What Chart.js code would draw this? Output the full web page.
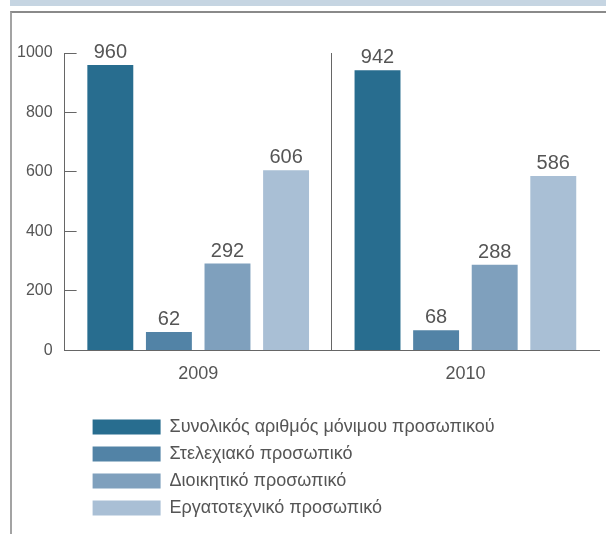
<!DOCTYPE html>
<html><head><meta charset="utf-8">
<script src="https://cdn.jsdelivr.net/npm/chart.js@4"></script>
<style>
html,body{margin:0;padding:0;background:#fff;}
#wrap{position:relative;width:606px;height:534px;overflow:hidden;}
#band{position:absolute;left:10px;top:0;width:596px;height:6px;background:#c6d5e2;}
#frame{position:absolute;left:10px;top:11px;width:596px;height:530px;border-left:2px solid #a3a3a3;border-top:2px solid #8a8a8a;}
canvas{position:absolute;left:0;top:0;}
</style></head><body>
<div id="wrap"><div id="band"></div><div id="frame"></div><canvas id="c" width="606" height="534"></canvas></div>
<script>
const categories = ['2009', '2010'];
const seriesNames = [
  'Συνολικός αριθμός μόνιμου προσωπικού',
  'Στελεχιακό προσωπικό',
  'Διοικητικό προσωπικό',
  'Εργατοτεχνικό προσωπικό'
];
const totalStaff = [960, 942];
const executiveStaff = [62, 68];
const administrativeStaff = [292, 288];
const workerStaff = [606, 586];
const yTickValues = [0, 200, 400, 600, 800, 1000];
const seriesColors = ['#286d8f', '#5283a6', '#7fa0bd', '#a9bfd5'];

const FONT = '"Liberation Sans", Arial, sans-serif';
const TEXT = '#555555';
const AXIS = '#666666';

const seriesValues = [totalStaff, executiveStaff, administrativeStaff, workerStaff];

const valueLabels = {
  id: 'valueLabels',
  afterDatasetsDraw(chart) {
    const ctx = chart.ctx;
    ctx.save();
    ctx.font = '20px ' + FONT;
    ctx.fillStyle = TEXT;
    ctx.textAlign = 'center';
    ctx.textBaseline = 'alphabetic';
    chart.data.datasets.forEach((ds, i) => {
      chart.getDatasetMeta(i).data.forEach((bar, j) => {
        ctx.fillText(String(ds.data[j]), bar.x, bar.y - 7);
      });
    });
    ctx.restore();
  }
};

// one legend entry per row, left-aligned under the plot
const legendRows = {
  id: 'legendRows',
  afterInit(chart) {
    const lg = chart.legend;
    if (!lg || !lg._fitRows) return;
    const orig = lg._fitRows;
    lg._fitRows = function (...args) {
      const mw = this.maxWidth;
      this.maxWidth = 1;
      const r = orig.apply(this, args);
      this.maxWidth = mw;
      return r;
    };
  },
  afterLayout(chart) {
    const lg = chart.legend;
    if (!lg) return;
    const w = lg.right - lg.left;
    lg.left = chart.chartArea.left + 19;
    lg.right = lg.left + w;
  }
};

new Chart(document.getElementById('c'), {
  type: 'bar',
  data: {
    labels: categories,
    datasets: seriesNames.map((name, i) => ({
      label: name,
      data: seriesValues[i],
      backgroundColor: seriesColors[i],
      borderWidth: 0,
      categoryPercentage: 0.877,
      barPercentage: 0.784
    }))
  },
  options: {
    responsive: false,
    animation: false,
    devicePixelRatio: 1,
    layout: { padding: { left: 17, top: 53, right: 7, bottom: 7 } },
    plugins: {
      tooltip: { enabled: false },
      legend: {
        position: 'bottom',
        align: 'start',
        fullSize: false,
        labels: {
          boxWidth: 68,
          boxHeight: 15,
          padding: 9,
          color: TEXT,
          font: { family: FONT, size: 18 }
        }
      }
    },
    scales: {
      x: {
        grid: {
          offset: true,
          drawTicks: false,
          color: (c) => (c.index === 1 ? AXIS : 'rgba(0,0,0,0)'),
          lineWidth: 1
        },
        border: { color: AXIS, width: 1 },
        ticks: { color: TEXT, font: { family: FONT, size: 18 }, padding: 13 },
        afterFit(scale) { scale.height += 11; }
      },
      y: {
        min: 0,
        max: 1000,
        afterBuildTicks(scale) { scale.ticks = yTickValues.map(v => ({ value: v })); },
        afterFit(scale) { scale.width -= scale.options.ticks.padding; },
        ticks: {
          color: TEXT,
          font: { family: FONT, size: 16 },
          padding: 24,
          callback: (v) => String(v)
        },
        grid: { drawOnChartArea: false, tickLength: -12, tickColor: AXIS },
        border: { color: AXIS, width: 1 }
      }
    }
  },
  plugins: [valueLabels, legendRows]
});
</script>
</body></html>
